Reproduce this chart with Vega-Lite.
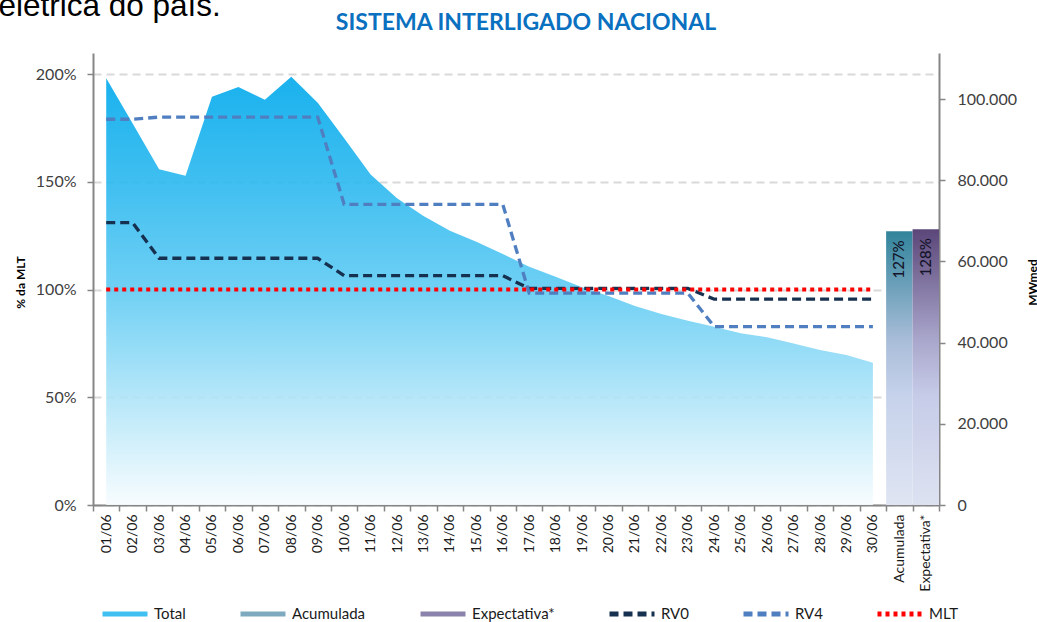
{
  "$schema": "https://vega.github.io/schema/vega-lite/v6.json",
  "width": 846,
  "height": 452,
  "autosize": {"type": "none"},
  "padding": {"left": 93, "top": 53, "right": 98, "bottom": 117},
  "background": "white",
  "config": {
    "view": {"stroke": null},
    "font": "Lato",
    "legend": {
      "orient": "none",
      "legendX": 7,
      "legendY": 536,
      "direction": "horizontal",
      "columns": 6,
      "columnPadding": 44,
      "symbolType": "stroke",
      "symbolSize": 2025,
      "symbolStrokeWidth": 5,
      "labelFont": "Lato",
      "labelFontSize": 15,
      "labelColor": "#1a1a1a",
      "labelOffset": 4,
      "title": null
    }
  },
  "datasets": {
    "dias": [
      {"dia": "01/06", "total": 198.0, "rv0": 131.0, "rv4": 179.0, "mlt": 100},
      {"dia": "02/06", "total": 177.0, "rv0": 131.0, "rv4": 179.0, "mlt": 100},
      {"dia": "03/06", "total": 155.8, "rv0": 114.5, "rv4": 180.0, "mlt": 100},
      {"dia": "04/06", "total": 152.8, "rv0": 114.5, "rv4": 180.0, "mlt": 100},
      {"dia": "05/06", "total": 189.5, "rv0": 114.5, "rv4": 180.0, "mlt": 100},
      {"dia": "06/06", "total": 194.0, "rv0": 114.5, "rv4": 180.0, "mlt": 100},
      {"dia": "07/06", "total": 188.0, "rv0": 114.5, "rv4": 180.0, "mlt": 100},
      {"dia": "08/06", "total": 198.7, "rv0": 114.5, "rv4": 180.0, "mlt": 100},
      {"dia": "09/06", "total": 186.7, "rv0": 114.5, "rv4": 180.0, "mlt": 100},
      {"dia": "10/06", "total": 170.2, "rv0": 106.4, "rv4": 139.5, "mlt": 100},
      {"dia": "11/06", "total": 153.4, "rv0": 106.4, "rv4": 139.5, "mlt": 100},
      {"dia": "12/06", "total": 142.3, "rv0": 106.4, "rv4": 139.5, "mlt": 100},
      {"dia": "13/06", "total": 134.1, "rv0": 106.4, "rv4": 139.5, "mlt": 100},
      {"dia": "14/06", "total": 127.3, "rv0": 106.4, "rv4": 139.5, "mlt": 100},
      {"dia": "15/06", "total": 122.2, "rv0": 106.4, "rv4": 139.5, "mlt": 100},
      {"dia": "16/06", "total": 116.5, "rv0": 106.4, "rv4": 139.5, "mlt": 100},
      {"dia": "17/06", "total": 110.6, "rv0": 100.5, "rv4": 98.3, "mlt": 100},
      {"dia": "18/06", "total": 105.9, "rv0": 100.5, "rv4": 98.3, "mlt": 100},
      {"dia": "19/06", "total": 101.0, "rv0": 100.5, "rv4": 98.3, "mlt": 100},
      {"dia": "20/06", "total": 97.0, "rv0": 100.5, "rv4": 98.3, "mlt": 100},
      {"dia": "21/06", "total": 92.3, "rv0": 100.5, "rv4": 98.3, "mlt": 100},
      {"dia": "22/06", "total": 88.6, "rv0": 100.5, "rv4": 98.3, "mlt": 100},
      {"dia": "23/06", "total": 85.5, "rv0": 100.5, "rv4": 98.3, "mlt": 100},
      {"dia": "24/06", "total": 82.7, "rv0": 95.5, "rv4": 82.8, "mlt": 100},
      {"dia": "25/06", "total": 79.7, "rv0": 95.5, "rv4": 82.8, "mlt": 100},
      {"dia": "26/06", "total": 77.8, "rv0": 95.5, "rv4": 82.8, "mlt": 100},
      {"dia": "27/06", "total": 75.0, "rv0": 95.5, "rv4": 82.8, "mlt": 100},
      {"dia": "28/06", "total": 71.9, "rv0": 95.5, "rv4": 82.8, "mlt": 100},
      {"dia": "29/06", "total": 69.6, "rv0": 95.5, "rv4": 82.8, "mlt": 100},
      {"dia": "30/06", "total": 66.0, "rv0": 95.5, "rv4": 82.8, "mlt": 100}
    ],
    "barras": [
      {"dia": "Acumulada", "pct": 127, "label": "127%"},
      {"dia": "Expectativa*", "pct": 128, "label": "128%"}
    ]
  },
  "resolve": {"axis": {"x": "independent", "y": "independent"}},
  "layer": [
    {
      "data": {"name": "dias"},
      "mark": {
        "type": "area",
        "opacity": 0.9,
        "color": {
          "gradient": "linear",
          "x1": 0, "y1": 0, "x2": 0, "y2": 1,
          "stops": [
            {"offset": 0, "color": "#00a9ec"},
            {"offset": 0.25, "color": "#2bb8ef"},
            {"offset": 0.5, "color": "#60cbf3"},
            {"offset": 0.75, "color": "#aee4f8"},
            {"offset": 1, "color": "#f7fcfe"}
          ]
        }
      },
      "encoding": {
        "x": {
          "field": "dia", "type": "nominal",
          "scale": {"type": "band", "paddingInner": 0, "paddingOuter": 0,
            "domain": ["01/06","02/06","03/06","04/06","05/06","06/06","07/06","08/06","09/06","10/06","11/06","12/06","13/06","14/06","15/06","16/06","17/06","18/06","19/06","20/06","21/06","22/06","23/06","24/06","25/06","26/06","27/06","28/06","29/06","30/06","Acumulada","Expectativa*"]},
          "axis": {
            "orient": "bottom",
            "labelAngle": -90,
            "labelFont": "Lato",
            "labelFontSize": 14,
            "labelColor": "#1a1a1a",
            "labelPadding": 3,
            "tickBand": "extent",
            "tickSize": 6,
            "tickColor": "#868686",
            "tickWidth": 1.5,
            "domainColor": "#868686",
            "domainWidth": 2,
            "grid": false,
            "title": "elétrica do país.",
            "titleFont": "Liberation Sans",
            "titleFontSize": 31.5,
            "titleFontWeight": "normal",
            "titleColor": "#000000",
            "titleX": -95,
            "titleY": -490,
            "titleAlign": "left",
            "titleBaseline": "alphabetic",
            "titleAngle": 0
          }
        },
        "y": {
          "field": "total", "type": "quantitative",
          "scale": {"domain": [0, 209.75], "nice": false, "zero": true},
          "axis": {
            "orient": "left",
            "values": [0, 50, 100, 150, 200],
            "labelExpr": "datum.value + '%'",
            "labelFont": "Lato",
            "labelFontSize": 16,
            "labelColor": "#404040",
            "labelPadding": 11,
            "tickSize": 6,
            "tickColor": "#868686",
            "tickWidth": 1.5,
            "domainColor": "#868686",
            "domainWidth": 2,
            "grid": true,
            "gridColor": "#d9d9d9",
            "gridDash": [8, 5],
            "gridWidth": 2,
            "title": "% da MLT",
            "titleFont": "Lato",
            "titleFontSize": 12,
            "titleFontWeight": "bold",
            "titleColor": "#000000",
            "titleX": -73,
            "titleY": 229,
            "titleAngle": 270,
            "titleAlign": "center",
            "titleBaseline": "middle"
          }
        }
      }
    },
    {
      "data": {"name": "barras"},
      "transform": [{"filter": "datum.dia === 'Acumulada'"}],
      "mark": {
        "type": "bar",
        "color": {
          "gradient": "linear",
          "x1": 0, "y1": 0, "x2": 0, "y2": 1,
          "stops": [
            {"offset": 0, "color": "#31849b"},
            {"offset": 0.4, "color": "#a9bdd9"},
            {"offset": 0.6, "color": "#c6d2eb"},
            {"offset": 1, "color": "#dfe5f2"}
          ]
        }
      },
      "encoding": {
        "x": {"field": "dia", "type": "nominal", "axis": null},
        "y": {"field": "pct", "type": "quantitative", "scale": {"domain": [0, 209.75], "nice": false}, "axis": null}
      }
    },
    {
      "data": {"name": "barras"},
      "transform": [{"filter": "datum.dia === 'Expectativa*'"}],
      "mark": {
        "type": "bar",
        "color": {
          "gradient": "linear",
          "x1": 0, "y1": 0, "x2": 0, "y2": 1,
          "stops": [
            {"offset": 0, "color": "#5b4679"},
            {"offset": 0.4, "color": "#a9a6cb"},
            {"offset": 0.6, "color": "#c6cbe8"},
            {"offset": 1, "color": "#dde2f1"}
          ]
        }
      },
      "encoding": {
        "x": {"field": "dia", "type": "nominal", "axis": null},
        "y": {"field": "pct", "type": "quantitative", "scale": {"domain": [0, 209.75], "nice": false}, "axis": null}
      }
    },
    {
      "data": {"name": "barras"},
      "mark": {"type": "text", "angle": 270, "align": "right", "baseline": "middle", "dx": -9, "font": "Lato", "fontSize": 15, "fontWeight": 500, "color": "#14142a"},
      "encoding": {
        "x": {"field": "dia", "type": "nominal", "axis": null},
        "y": {"field": "pct", "type": "quantitative", "scale": {"domain": [0, 209.75], "nice": false}, "axis": null},
        "text": {"field": "label"}
      }
    },
    {
      "data": {"name": "dias"},
      "mark": {"type": "line", "strokeWidth": 3.3},
      "encoding": {
        "x": {
          "field": "dia", "type": "nominal",
          "axis": {
            "orient": "top",
            "labels": false,
            "ticks": false,
            "domain": false,
            "grid": false,
            "title": "SISTEMA INTERLIGADO NACIONAL",
            "titleFont": "Lato",
            "titleFontSize": 23,
            "titleFontWeight": "bold",
            "titleColor": "#0a70c0",
            "titleX": 432.5,
            "titleY": -24,
            "titleAlign": "center",
            "titleBaseline": "alphabetic",
            "titleAngle": 0
          }
        },
        "y": {"field": "rv0", "type": "quantitative", "scale": {"domain": [0, 209.75], "nice": false}, "axis": null},
        "color": {
          "datum": "RV0", "title": null,
          "scale": {"domain": ["Total", "Acumulada", "Expectativa*", "RV0", "RV4", "MLT"],
                    "range": ["#3fc0f0", "#7eaabf", "#8c83ac", "#16304f", "#4f7fc0", "#ff0000"]}
        },
        "strokeDash": {
          "datum": "RV0", "title": null,
          "scale": {"domain": ["Total", "Acumulada", "Expectativa*", "RV0", "RV4", "MLT"],
                    "range": [[1, 0], [1, 0], [1, 0], [9, 5], [9, 5], [4, 4]]}
        }
      }
    },
    {
      "data": {"name": "dias"},
      "mark": {"type": "line", "strokeWidth": 3.3},
      "encoding": {
        "x": {"field": "dia", "type": "nominal", "axis": null},
        "y": {"field": "rv4", "type": "quantitative", "scale": {"domain": [0, 209.75], "nice": false}, "axis": null},
        "color": {"datum": "RV4", "title": null},
        "strokeDash": {"datum": "RV4", "title": null}
      }
    },
    {
      "data": {"name": "dias"},
      "mark": {"type": "line", "strokeWidth": 4},
      "encoding": {
        "x": {"field": "dia", "type": "nominal", "axis": null},
        "y": {
          "field": "mlt", "type": "quantitative",
          "scale": {"domain": [0, 209.75], "nice": false},
          "axis": {
            "orient": "right",
            "values": [0, 37.68, 75.36, 113.04, 150.72, 188.4],
            "labelExpr": "replace(format(round(datum.value * 530.8 / 1000) * 1000, ','), ',', '.')",
            "labelFont": "Lato",
            "labelFontSize": 16,
            "labelColor": "#404040",
            "labelPadding": 12,
            "tickSize": 6,
            "tickColor": "#868686",
            "tickWidth": 1.5,
            "domainColor": "#868686",
            "domainWidth": 2,
            "grid": false,
            "title": "MWmed",
            "titleFont": "Lato",
            "titleFontSize": 12,
            "titleFontWeight": "bold",
            "titleColor": "#000000",
            "titleX": 93,
            "titleY": 229,
            "titleAngle": 270,
            "titleAlign": "center",
            "titleBaseline": "middle"
          }
        },
        "color": {"datum": "MLT", "title": null},
        "strokeDash": {"datum": "MLT", "title": null}
      }
    }
  ]
}
